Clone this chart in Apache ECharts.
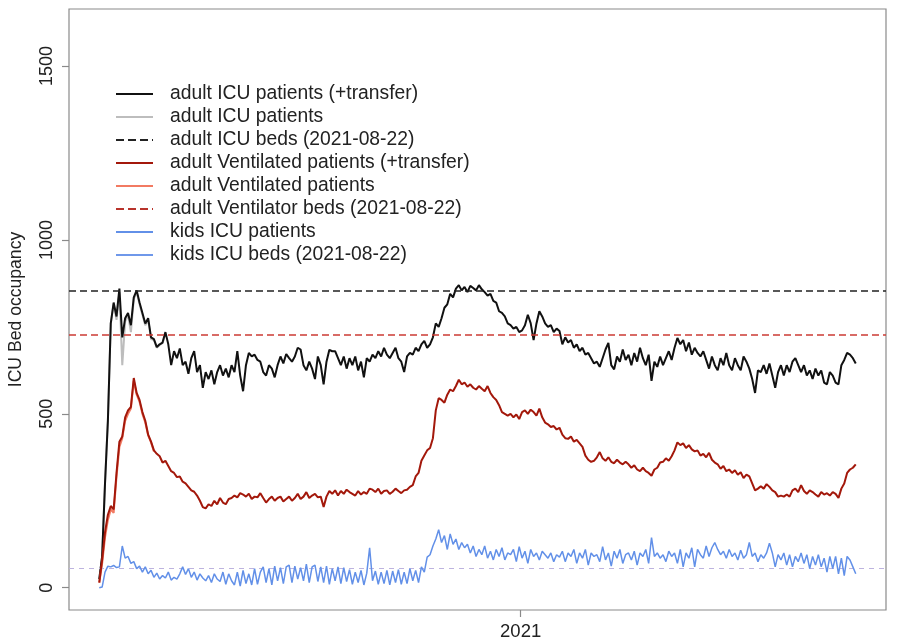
<!DOCTYPE html>
<html>
<head>
<meta charset="utf-8">
<script src="https://cdn.jsdelivr.net/npm/echarts@6/dist/echarts.min.js"></script>
<style>
html,body{margin:0;padding:0;background:#fff;}
#chart{width:900px;height:641px;}
</style>
</head>
<body>
<div id="chart"></div>
<script>
// ---- data (one value every 2 days, starting 2020-03-14) ----
const startYear = 2020, startMonth = 3, startDay = 14;
const stepDays = 2;
const totalDays = 526; // 2020-03-14 .. 2021-08-22

const adultIcuTransfer = [
25,90,300,480,760,820,780,860,720,775,790,755,835,855,820,790,760,775,720,715,
692,700,705,735,700,640,680,660,688,640,650,615,660,680,620,640,575,620,600,625,
585,620,640,610,630,605,640,620,680,610,565,640,675,665,670,655,650,620,610,640,
630,605,640,665,645,672,660,650,665,690,685,640,625,650,630,600,665,640,585,650,
684,680,680,660,640,665,630,660,640,665,625,650,605,660,650,670,660,680,665,690,
670,660,675,690,660,650,620,665,675,670,690,680,700,710,690,700,720,760,750,775,
805,815,845,835,860,870,855,865,850,868,862,855,870,858,850,840,845,825,820,795,
790,780,760,755,745,750,735,740,755,785,760,712,760,795,780,760,750,755,735,745,
738,700,720,705,712,690,700,680,690,670,675,660,645,650,635,660,685,704,640,628,
665,650,685,655,670,640,675,650,690,660,640,670,595,650,635,665,640,660,680,655,
690,718,700,712,680,705,670,690,675,665,680,655,630,665,640,625,660,640,675,640,
625,660,640,625,665,650,630,600,560,625,620,640,615,645,610,575,620,640,610,640,
620,650,660,640,620,640,610,625,600,630,610,625,590,585,620,610,590,585,640,655,
675,670,660,645];

// adult ICU patients without transfers (only differs visibly in the first weeks)
const adultIcu = [
25,90,300,480,760,815,770,850,640,765,785,735,830,850,815,785,755,770,715,712,
690,698,703,730];

const ventTransfer = [
15,80,160,210,235,225,330,420,435,490,510,520,603,560,540,505,480,440,420,395,
385,378,360,365,350,335,330,318,320,305,300,290,280,276,265,250,232,228,240,235,
250,240,258,245,240,255,258,265,260,272,268,262,270,255,262,260,272,258,245,255,
262,250,258,262,248,255,262,250,258,270,255,262,275,258,265,270,260,262,232,262,
278,270,280,265,278,270,282,275,270,265,278,268,275,270,285,282,275,285,270,278,
280,270,276,285,278,272,280,282,290,295,320,330,365,380,395,402,430,510,545,540,
532,555,570,565,580,598,585,590,578,585,575,570,580,572,565,580,560,548,540,525,
505,500,495,500,490,498,485,505,510,500,512,505,495,515,490,475,470,462,465,455,
460,440,430,428,435,420,425,415,405,380,368,362,365,375,390,372,365,375,362,358,
368,360,355,362,355,345,352,340,335,345,335,330,322,340,345,360,362,372,365,378,
395,418,410,415,402,410,398,392,395,380,385,375,388,368,360,355,342,350,335,340,
330,338,325,332,315,325,320,300,280,285,292,285,298,290,280,275,262,265,262,268,
262,280,285,275,295,278,270,280,275,268,262,275,268,272,265,275,270,258,285,300,
330,340,345,355];

// ventilated patients without transfers (only differs visibly in the first weeks)
const vent = [
15,70,145,195,225,215,320,405,430,480,500,515,595,555,535,500,475,438,418,392];

const kidsIcu = [
0,2,45,62,60,64,58,60,120,85,90,70,75,55,62,45,60,40,50,30,
42,25,35,28,45,22,30,25,40,60,38,55,30,45,22,40,28,20,35,15,
40,25,18,45,10,40,20,8,45,5,50,12,40,8,55,10,45,60,15,55,
8,62,20,58,12,60,65,15,62,25,58,20,68,15,60,65,18,60,15,62,
10,55,20,60,12,58,18,52,10,45,15,50,8,42,115,20,48,10,45,12,
50,8,48,15,52,10,45,12,55,20,50,15,60,45,88,95,120,140,167,130,
150,110,155,125,140,110,130,115,125,100,120,90,110,95,120,85,105,80,110,90,
115,80,100,95,110,75,118,85,105,70,110,90,100,80,105,95,85,100,75,95,
88,105,75,100,90,110,70,100,85,110,65,100,90,95,75,118,80,100,62,105,
85,110,70,95,100,80,105,65,100,90,110,70,144,90,100,85,95,75,105,90,
100,70,110,60,100,85,115,60,110,95,85,120,90,115,130,110,95,105,85,110,
90,100,80,108,85,95,130,90,100,75,95,85,100,128,100,60,95,80,100,65,
95,60,90,75,100,70,95,55,90,65,95,60,85,45,90,55,90,40,85,35,
90,80,60,40];

// bed capacity lines (2021-08-22)
const adultIcuBeds = 854;
const ventBeds = 726;
const kidsIcuBeds = 55;

const yTicks = [0, 500, 1000, 1500];
const xTickDates = [[2021, 1, 1]];

const seriesNames = [
  'adult ICU patients (+transfer)',
  'adult ICU patients',
  'adult ICU beds (2021-08-22)',
  'adult Ventilated patients (+transfer)',
  'adult Ventilated patients',
  'adult Ventilator beds (2021-08-22)',
  'kids ICU patients',
  'kids ICU beds (2021-08-22)'
];

// ---- build (x = days since start date) ----
const DAY = 86400000;
const t0 = Date.UTC(startYear, startMonth - 1, startDay);
const pad = 0.04 * totalDays;
function toPairs(arr) {
  return arr.map((v, i) => [i * stepDays, v]);
}
const xTicks = xTickDates.map(d => (Date.UTC(d[0], d[1] - 1, d[2]) - t0) / DAY);

function lineSeries(name, data, color, width, z) {
  return {
    name: name, type: 'line', data: toPairs(data), symbol: 'none', symbolSize: 0, showSymbol: false,
    lineStyle: {color: color, width: width}, itemStyle: {color: color},
    z: z, silent: true, animation: false
  };
}
function bedSeries(name, value, legendColor, legendType, color, width, dash) {
  return {
    name: name, type: 'line', data: [], symbol: 'none', symbolSize: 0,
    lineStyle: {color: legendColor, width: 2, type: legendType}, itemStyle: {color: legendColor},
    animation: false, silent: true,
    markLine: {
      silent: true, symbol: ['none', 'none'], animation: false,
      label: {show: false},
      lineStyle: {color: color, width: width, type: dash},
      emphasis: {disabled: true},
      data: [{yAxis: value}]
    }
  };
}

const FONT = 'Liberation Sans, Arial, sans-serif';
const chart = echarts.init(document.getElementById('chart'), null, {renderer: 'canvas'});
chart.setOption({
  backgroundColor: '#fff',
  animation: false,
  textStyle: {fontFamily: FONT},
  grid: {left: 69, right: 14, top: 9, bottom: 31, show: true, borderColor: '#8a8a8a', borderWidth: 1.2,
    containLabel: false, outerBoundsMode: 'none'},
  legend: {
    orient: 'vertical', left: 115, top: 84, padding: 0,
    itemWidth: 37, itemHeight: 14, itemGap: 3,
    itemStyle: {opacity: 0},
    textStyle: {fontSize: 19.3, lineHeight: 20, color: '#222', fontFamily: FONT, padding: [0, 0, 0, 12]},
    selectedMode: false,
    data: seriesNames
  },
  xAxis: {
    type: 'value', min: -pad, max: totalDays + pad,
    axisLine: {show: false, onZero: false},
    splitLine: {show: false},
    axisTick: {show: true, length: 7, lineStyle: {color: '#8a8a8a', width: 1.2}, customValues: xTicks},
    axisLabel: {
      customValues: xTicks, fontSize: 18.5, color: '#222', margin: 12,
      formatter: function (v) { return String(new Date(t0 + v * DAY).getUTCFullYear()); }
    }
  },
  yAxis: {
    type: 'value', min: -64, max: 1664,
    name: 'ICU Bed occupancy', nameLocation: 'middle', nameGap: 44,
    nameTextStyle: {fontSize: 17.6, color: '#222'},
    axisLine: {show: false, onZero: false},
    splitLine: {show: false},
    axisTick: {show: true, length: 7, lineStyle: {color: '#8a8a8a', width: 1.2}, customValues: yTicks},
    axisLabel: {customValues: yTicks, fontSize: 18, color: '#222', rotate: 90, margin: 13,
      formatter: function (v) { return String(v); }}
  },
  series: [
    lineSeries(seriesNames[1], adultIcu, '#bdbdbd', 2, 2),
    lineSeries(seriesNames[0], adultIcuTransfer, '#111111', 2, 3),
    bedSeries(seriesNames[2], adultIcuBeds, '#222', 'dashed', '#222', 1.6, [7, 4]),
    lineSeries(seriesNames[4], vent, '#f27a62', 2, 4),
    lineSeries(seriesNames[3], ventTransfer, '#a3180b', 2, 5),
    bedSeries(seriesNames[5], ventBeds, '#b8332b', 'dashed', '#cc3b35', 1.6, [7, 4]),
    lineSeries(seriesNames[6], kidsIcu, '#6290e8', 1.5, 6),
    bedSeries(seriesNames[7], kidsIcuBeds, '#6f98ea', 'solid', '#bdb3df', 1, [5, 5])
  ]
});
</script>
</body>
</html>
